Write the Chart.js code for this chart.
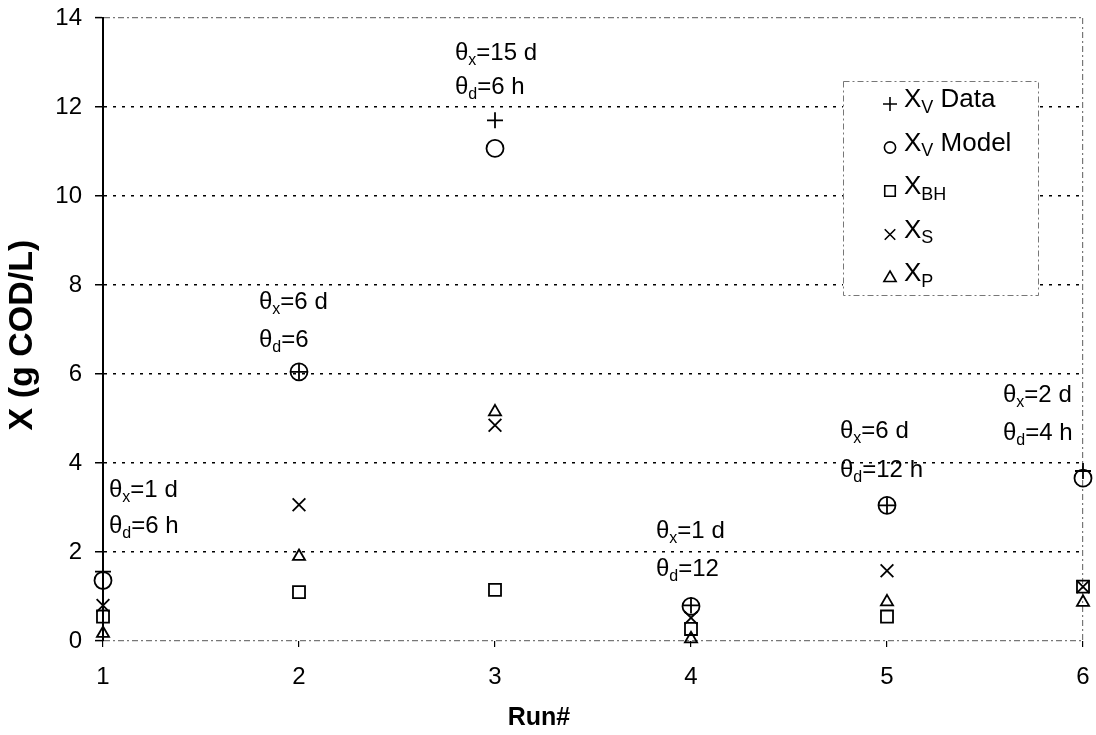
<!DOCTYPE html>
<html>
<head>
<meta charset="utf-8">
<script src="https://cdn.jsdelivr.net/npm/chart.js@4.4.1/dist/chart.umd.min.js"></script>
<style>
  html, body { margin: 0; padding: 0; background: #fff; }
</style>
</head>
<body>
<canvas id="myChart" width="1096" height="735"></canvas>
<script>
// valori (g COD/L)
const runs = [1, 2, 3, 4, 5, 6];
const xvData = [1.56, 6.05, 11.7, 0.8, 3.05, 3.82];
const xvModel = [1.36, 6.05, 11.07, 0.78, 3.05, 3.66];
const xBH = [0.55, 1.1, 1.15, 0.27, 0.55, 1.22];
const xS = [0.8, 3.06, 4.85, 0.52, 1.58, 1.22];
const xP = [0.17, 1.9, 5.15, 0.05, 0.88, 0.87];
const yTicks = [0, 2, 4, 6, 8, 10, 12, 14];

// condizioni operative di ogni run
const thetaX = ['1 d', '6 d', '15 d', '1 d', '6 d', '2 d'];
const thetaD = ['6 h', '6', '6 h', '12', '12 h', '4 h'];

// dove scrivere le etichette: spostamento in px dal run, quota delle due righe
const notePos = [
    { dx: 6, y1: 3.39, y2: 2.57 },
    { dx: -40, y1: 7.62, y2: 6.76 },
    { dx: -40, y1: 13.2, y2: 12.45 },
    { dx: -35, y1: 2.46, y2: 1.6 },
    { dx: -47, y1: 4.7, y2: 3.84 },
    { dx: -80, y1: 5.53, y2: 4.67 }
];

const legendNames = [
    { style: 'cross', sub: 'V', rest: ' Data' },
    { style: 'circle', sub: 'V', rest: ' Model' },
    { style: 'rect', sub: 'BH', rest: '' },
    { style: 'crossRot', sub: 'S', rest: '' },
    { style: 'triangle', sub: 'P', rest: '' }
];

const FONT = '"Liberation Sans", Arial, sans-serif';

function toPoints(values) {
    return runs.map((r, i) => ({ x: r, y: values[i] }));
}

function makeSet(label, values, style, radius) {
    return {
        label: label,
        data: toPoints(values),
        pointStyle: style,
        pointRadius: radius,
        pointHoverRadius: radius,
        borderColor: '#000',
        backgroundColor: 'rgba(0,0,0,0)',
        pointBorderWidth: 1.8,
        clip: false
    };
}

// testo con pedice: parts = [[testo, pedice?], ...]
function drawSubText(ctx, x, y, parts, size) {
    ctx.textBaseline = 'middle';
    ctx.textAlign = 'left';
    parts.forEach(p => {
        const sub = p[1];
        ctx.font = (sub ? Math.round(size * 0.68) : size) + 'px ' + FONT;
        ctx.fillText(p[0], x, sub ? y + size * 0.3 : y);
        x += ctx.measureText(p[0]).width;
    });
}

function drawMarker(ctx, style, x, y, r) {
    ctx.save();
    ctx.strokeStyle = '#000';
    ctx.lineWidth = 1.6;
    ctx.beginPath();
    if (style === 'cross') {
        ctx.moveTo(x - r, y); ctx.lineTo(x + r, y);
        ctx.moveTo(x, y - r); ctx.lineTo(x, y + r);
    } else if (style === 'circle') {
        ctx.arc(x, y, r * 0.8, 0, Math.PI * 2);
    } else if (style === 'rect') {
        const s = r * 0.75;
        ctx.rect(x - s, y - s, 2 * s, 2 * s);
    } else if (style === 'crossRot') {
        const s = r * 0.75;
        ctx.moveTo(x - s, y - s); ctx.lineTo(x + s, y + s);
        ctx.moveTo(x - s, y + s); ctx.lineTo(x + s, y - s);
    } else if (style === 'triangle') {
        ctx.moveTo(x, y - r);
        ctx.lineTo(x + r * 0.87, y + r * 0.5);
        ctx.lineTo(x - r * 0.87, y + r * 0.5);
        ctx.closePath();
    }
    ctx.stroke();
    ctx.restore();
}

const notesPlugin = {
    id: 'notes',
    afterDatasetsDraw(chart) {
        const ctx = chart.ctx;
        const xs = chart.scales.x, ys = chart.scales.y;
        ctx.save();
        ctx.fillStyle = '#000';
        runs.forEach((r, i) => {
            const p = notePos[i];
            const x = xs.getPixelForValue(r) + p.dx;
            drawSubText(ctx, x, ys.getPixelForValue(p.y1), [['\u03b8', false], ['x', true], ['=' + thetaX[i], false]], 24);
            drawSubText(ctx, x, ys.getPixelForValue(p.y2), [['\u03b8', false], ['d', true], ['=' + thetaD[i], false]], 24);
        });
        ctx.restore();
    }
};

// legenda con pedici e titoli degli assi
const legendPlugin = {
    id: 'subLegend',
    afterDraw(chart) {
        const ctx = chart.ctx;
        ctx.save();
        ctx.fillStyle = '#fff';
        ctx.fillRect(843, 81, 195, 214);
        ctx.strokeStyle = '#777';
        ctx.lineWidth = 1;
        ctx.setLineDash([6, 3, 2, 3]);
        ctx.strokeRect(843.5, 81.5, 195, 214);
        ctx.setLineDash([]);
        ctx.fillStyle = '#000';
        legendNames.forEach((item, i) => {
            const y = 100 + i * 43.5;
            drawMarker(ctx, item.style, 890, y + 4, 7);
            drawSubText(ctx, 904, y, [['X', false], [item.sub, true], [item.rest, false]], 26);
        });

        ctx.textAlign = 'center';
        ctx.textBaseline = 'middle';
        ctx.font = 'bold 25px ' + FONT;
        ctx.fillText('Run#', 539, 718);
        ctx.translate(23, 335);
        ctx.rotate(-Math.PI / 2);
        ctx.font = 'bold 34px ' + FONT;
        ctx.fillText('X (g COD/L)', 0, 0);
        ctx.restore();
    }
};

// niente margini extra per le etichette: l'area del grafico la decide il layout
function fixPadding(s) {
    s.paddingTop = 0;
    s.paddingBottom = 0;
    s.paddingLeft = 0;
    s.paddingRight = 0;
}

const ctx = document.getElementById('myChart').getContext('2d');
const myChart = new Chart(ctx, {
    type: 'scatter',
    data: {
        datasets: [
            makeSet('XV Data', xvData, 'cross', 8),
            makeSet('XV Model', xvModel, 'circle', 8.5),
            makeSet('XBH', xBH, 'rect', 8.5),
            makeSet('XS', xS, 'crossRot', 9),
            makeSet('XP', xP, 'triangle', 7)
        ]
    },
    options: {
        responsive: false,
        animation: false,
        devicePixelRatio: 1,
        layout: { padding: { top: 18, right: 13, left: 0, bottom: 0 } },
        plugins: {
            legend: { display: false },
            tooltip: { enabled: false }
        },
        scales: {
            x: {
                type: 'linear',
                min: 1,
                max: 6,
                ticks: {
                    stepSize: 1,
                    color: '#000',
                    padding: 16,
                    font: { family: FONT, size: 24 }
                },
                grid: {
                    color: c => (c.tick && c.tick.value === 6) ? '#777' : 'rgba(0,0,0,0)',
                    lineWidth: 1.2,
                    tickColor: '#000',
                    tickLength: 6,
                    tickWidth: 1.2
                },
                border: { display: false, dash: [6, 3, 2, 3] },
                afterFit: s => { s.height = 94; fixPadding(s); }
            },
            y: {
                min: 0,
                max: 14,
                afterBuildTicks: s => { s.ticks = yTicks.map(v => ({ value: v })); },
                ticks: {
                    color: '#000',
                    padding: 13,
                    font: { family: FONT, size: 24 }
                },
                grid: {
                    color: c => (c.tick && (c.tick.value === 0 || c.tick.value === 14)) ? '#777' : '#000',
                    lineWidth: c => (c.tick && (c.tick.value === 0 || c.tick.value === 14)) ? 1.2 : 1.5,
                    tickColor: '#000',
                    tickLength: 8,
                    tickWidth: 1.5
                },
                border: {
                    display: true,
                    color: '#000',
                    width: 2,
                    dash: c => (c.tick && (c.tick.value === 0 || c.tick.value === 14)) ? [6, 3, 2, 3] : [3, 6]
                },
                afterFit: s => { s.width = 103; fixPadding(s); }
            }
        }
    },
    plugins: [notesPlugin, legendPlugin]
});
</script>
</body>
</html>
